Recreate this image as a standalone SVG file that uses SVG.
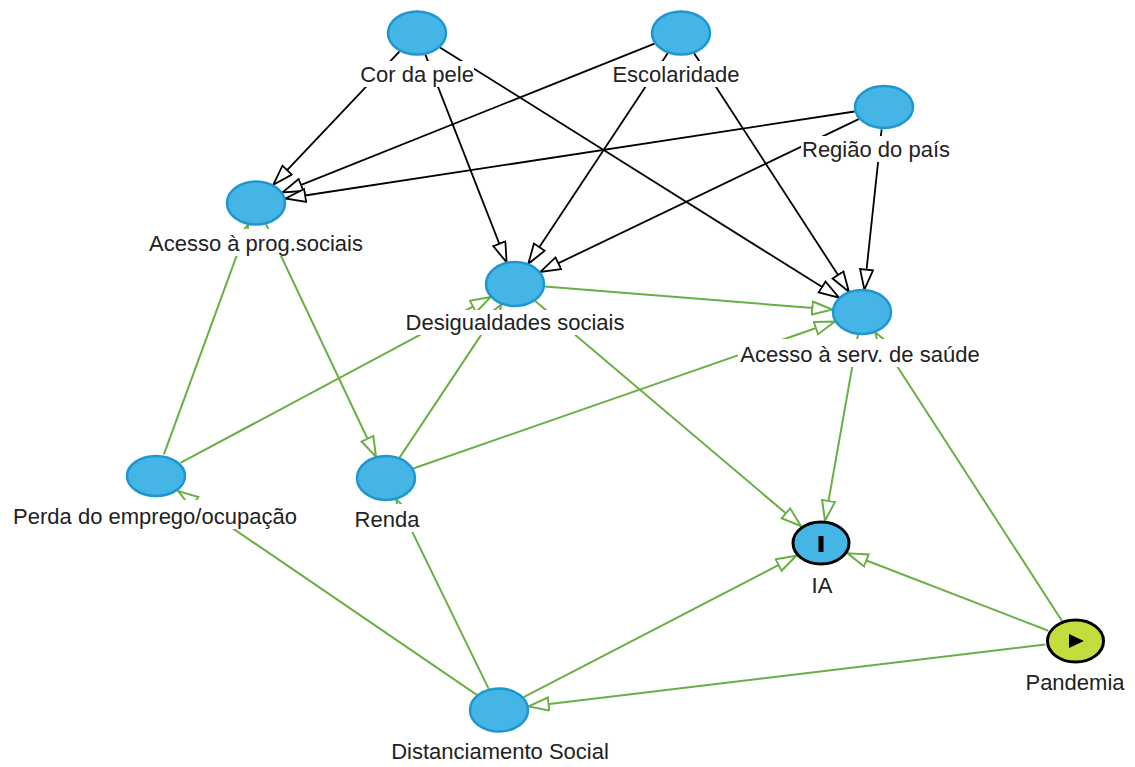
<svg xmlns="http://www.w3.org/2000/svg" width="1135" height="767" viewBox="0 0 1135 767">
<defs>
<style>
.node{fill:#45b5e6;stroke:#1e96d2;stroke-width:2.5}
.term{fill:#45b5e6;stroke:#000;stroke-width:3}
.exp{fill:#c5dc3f;stroke:#000;stroke-width:3}
.lbl{font-family:"Liberation Sans",Arial,sans-serif;font-size:22px;fill:#222;text-anchor:middle}
.bg{fill:#fff}
.k{stroke:#000;stroke-width:1.8;fill:none;marker-end:url(#ak)}
.g{stroke:#6aaf45;stroke-width:2;fill:none;marker-end:url(#ag)}
</style>
<marker id="ak" markerUnits="userSpaceOnUse" markerWidth="24" markerHeight="17" refX="21" refY="7.5" orient="auto">
<path d="M1,1 L21,7.5 L1,14 z" fill="#fff" stroke="#000" stroke-width="1.8"/>
</marker>
<marker id="ag" markerUnits="userSpaceOnUse" markerWidth="24" markerHeight="17" refX="21" refY="7.5" orient="auto">
<path d="M1,1 L21,7.5 L1,14 z" fill="#fff" stroke="#6aaf45" stroke-width="2"/>
</marker>
</defs>
<rect width="1135" height="767" fill="#fff"/>
<g id="connectors">
<line class="k" x1="399.6" y1="51.3" x2="273.4" y2="184.7"/>
<line class="k" x1="425.4" y1="54.6" x2="506.6" y2="262.4"/>
<line class="k" x1="440.0" y1="47.4" x2="839.0" y2="297.6"/>
<line class="k" x1="654.5" y1="43.6" x2="282.5" y2="192.4"/>
<line class="k" x1="667.7" y1="53.2" x2="528.3" y2="263.8"/>
<line class="k" x1="694.1" y1="53.2" x2="848.9" y2="291.8"/>
<line class="k" x1="854.6" y1="111.5" x2="285.4" y2="198.5"/>
<line class="k" x1="858.7" y1="119.1" x2="540.3" y2="271.9"/>
<line class="k" x1="881.6" y1="129.4" x2="864.4" y2="289.6"/>
<line class="g" x1="544.8" y1="286.4" x2="832.2" y2="309.6"/>
<line class="g" x1="534.9" y1="300.8" x2="801.1" y2="526.2"/>
<line class="g" x1="858.0" y1="334.3" x2="825.0" y2="520.7"/>
<line class="g" x1="266.0" y1="224.2" x2="376.0" y2="456.8"/>
<line class="g" x1="163.9" y1="454.3" x2="248.0" y2="224.7"/>
<line class="g" x1="180.4" y1="462.9" x2="490.6" y2="297.1"/>
<line class="g" x1="399.4" y1="457.9" x2="501.6" y2="304.1"/>
<line class="g" x1="413.2" y1="468.5" x2="834.8" y2="321.5"/>
<line class="g" x1="476.8" y1="694.9" x2="178.2" y2="491.1"/>
<line class="g" x1="488.7" y1="688.9" x2="396.3" y2="499.1"/>
<line class="g" x1="523.7" y1="697.2" x2="796.3" y2="555.8"/>
<line class="g" x1="1045.3" y1="644.6" x2="528.7" y2="706.4"/>
<line class="g" x1="1048.3" y1="630.7" x2="847.7" y2="553.3"/>
<line class="g" x1="1061.9" y1="620.8" x2="875.1" y2="332.2"/>
</g>
<g id="cor-da-pele">
<rect class="bg" x="360" y="61" width="114" height="26"/>
<text class="lbl" x="417" y="82">Cor da pele</text>
<ellipse class="node" cx="417" cy="33" rx="29" ry="21.5"/>
</g>
<g id="escolaridade">
<rect class="bg" x="613" y="61" width="126" height="26"/>
<text class="lbl" x="676" y="82">Escolaridade</text>
<ellipse class="node" cx="681" cy="33" rx="29" ry="21.5"/>
</g>
<g id="regiao-do-pais">
<rect class="bg" x="801" y="136" width="150" height="26"/>
<text class="lbl" x="876" y="157">Região do país</text>
<ellipse class="node" cx="884" cy="107" rx="29" ry="21"/>
</g>
<g id="acesso-prog-sociais">
<rect class="bg" x="147" y="229" width="218" height="27"/>
<text class="lbl" x="256" y="251">Acesso à prog.sociais</text>
<ellipse class="node" cx="256" cy="203" rx="29" ry="21.5"/>
</g>
<g id="desigualdades-sociais">
<rect class="bg" x="404" y="310" width="222" height="25"/>
<text class="lbl" x="515" y="330">Desigualdades sociais</text>
<ellipse class="node" cx="515" cy="284" rx="29" ry="22"/>
</g>
<g id="acesso-serv-saude">
<rect class="bg" x="738" y="339" width="244" height="28"/>
<text class="lbl" x="860" y="362">Acesso à serv. de saúde</text>
<ellipse class="node" cx="862" cy="312" rx="29" ry="22"/>
</g>
<g id="perda-emprego">
<rect class="bg" x="9" y="500" width="292" height="29"/>
<text class="lbl" x="155" y="524">Perda do emprego/ocupação</text>
<ellipse class="node" cx="156" cy="476" rx="29" ry="20"/>
</g>
<g id="renda">
<rect class="bg" x="352" y="504" width="70" height="28"/>
<text class="lbl" x="387" y="527">Renda</text>
<ellipse class="node" cx="386" cy="478" rx="29" ry="22"/>
</g>
<g id="ia">
<rect class="bg" x="809" y="572" width="26" height="26"/>
<text class="lbl" x="822" y="593">IA</text>
<ellipse class="term" cx="821" cy="543" rx="28" ry="21"/>
<rect x="818.5" y="536" width="5" height="16" fill="#000"/>
</g>
<g id="pandemia">
<rect class="bg" x="1024" y="668" width="103" height="27"/>
<text class="lbl" x="1075" y="690">Pandemia</text>
<ellipse class="exp" cx="1075.5" cy="641" rx="28" ry="21"/>
<polygon points="1069,634 1084,641 1069,648" fill="#000"/>
</g>
<g id="distanciamento-social">
<rect class="bg" x="388" y="738" width="224" height="26"/>
<text class="lbl" x="500" y="759">Distanciamento Social</text>
<ellipse class="node" cx="499" cy="710" rx="29" ry="21.5"/>
</g>
</svg>
